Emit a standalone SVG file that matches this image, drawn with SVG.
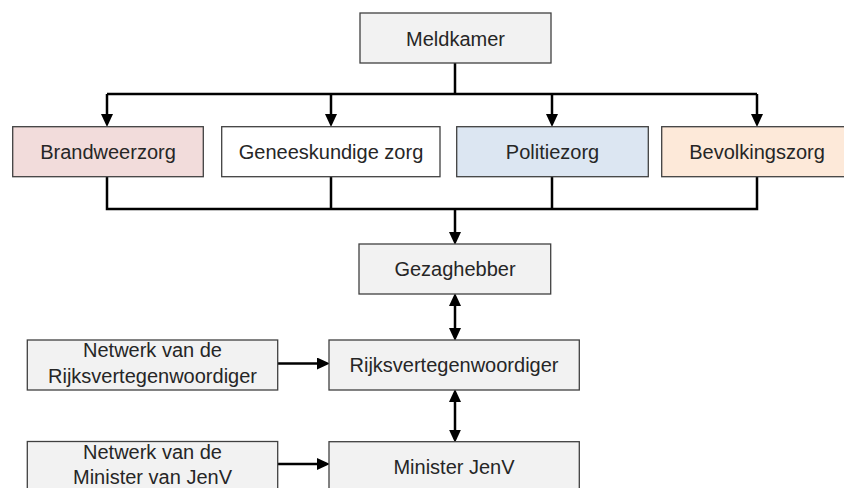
<svg xmlns="http://www.w3.org/2000/svg" width="844" height="488" viewBox="0 0 844 488">
<style>
.box{stroke:#404040;stroke-width:1.3}
.gray{fill:#f2f2f2}
.txt{font-family:"Liberation Sans",Arial,sans-serif;font-size:20px;fill:#262626;text-anchor:middle}
.con{fill:none;stroke:#000;stroke-width:2.5}
</style>
<defs>
<marker id="ah" markerUnits="userSpaceOnUse" markerWidth="13" markerHeight="12" viewBox="0 0 13 12" refX="6" refY="6" orient="auto-start-reverse">
<path d="M0,0 L13,6 L0,12 z" fill="#000"/>
</marker>
</defs>
<rect width="844" height="488" fill="#fff"/>
<g id="connectors">
<path class="con" d="M455,63 V94 M107,94 H757"/>
<path class="con" d="M107,94 V120" marker-end="url(#ah)"/>
<path class="con" d="M331,94 V120" marker-end="url(#ah)"/>
<path class="con" d="M552,94 V120" marker-end="url(#ah)"/>
<path class="con" d="M757,94 V120" marker-end="url(#ah)"/>
<path class="con" d="M107,177 V209 H757 V177 M331,177 V209 M552,177 V209"/>
<path class="con" d="M455,209 V238" marker-end="url(#ah)"/>
<path class="con" d="M455,300 V334" marker-start="url(#ah)" marker-end="url(#ah)"/>
<path class="con" d="M455,396 V435.7" marker-start="url(#ah)" marker-end="url(#ah)"/>
<path class="con" d="M278,363.5 H323" marker-end="url(#ah)"/>
<path class="con" d="M278,464 H323" marker-end="url(#ah)"/>
</g>
<g id="meldkamer">
<rect class="box gray" x="360" y="13" width="191" height="50"/>
<text class="txt" x="455.5" y="45.5">Meldkamer</text>
</g>
<g id="brandweerzorg">
<rect class="box" fill="#f2dcdb" x="12.7" y="126.7" width="190.6" height="50"/>
<text class="txt" x="108" y="159">Brandweerzorg</text>
</g>
<g id="geneeskundige">
<rect class="box" fill="#fff" x="221.7" y="126.7" width="218.3" height="50"/>
<text class="txt" x="331" y="159">Geneeskundige zorg</text>
</g>
<g id="politiezorg">
<rect class="box" fill="#dce6f2" x="456.7" y="126.7" width="191.6" height="50"/>
<text class="txt" x="552.5" y="159">Politiezorg</text>
</g>
<g id="bevolkingszorg">
<rect class="box" fill="#fde9d9" x="661.7" y="126.7" width="192" height="50"/>
<text class="txt" x="757" y="159">Bevolkingszorg</text>
</g>
<g id="gezaghebber">
<rect class="box gray" x="359" y="244" width="191.7" height="50"/>
<text class="txt" x="455" y="276">Gezaghebber</text>
</g>
<g id="netwerk-rijks">
<rect class="box gray" x="27.3" y="340" width="250.4" height="50"/>
<text class="txt" x="152.5" y="357.3">Netwerk van de</text>
<text class="txt" x="152.5" y="383.3">Rijksvertegenwoordiger</text>
</g>
<g id="rijksvertegenwoordiger">
<rect class="box gray" x="329" y="340" width="250.3" height="50"/>
<text class="txt" x="454" y="372.3">Rijksvertegenwoordiger</text>
</g>
<g id="netwerk-minister">
<rect class="box gray" x="27.3" y="441.5" width="250.4" height="52"/>
<text class="txt" x="152.5" y="458.5">Netwerk van de</text>
<text class="txt" x="152.5" y="483.5">Minister van JenV</text>
</g>
<g id="minister">
<rect class="box gray" x="329" y="441.7" width="250.3" height="52"/>
<text class="txt" x="454" y="474">Minister JenV</text>
</g>
</svg>
